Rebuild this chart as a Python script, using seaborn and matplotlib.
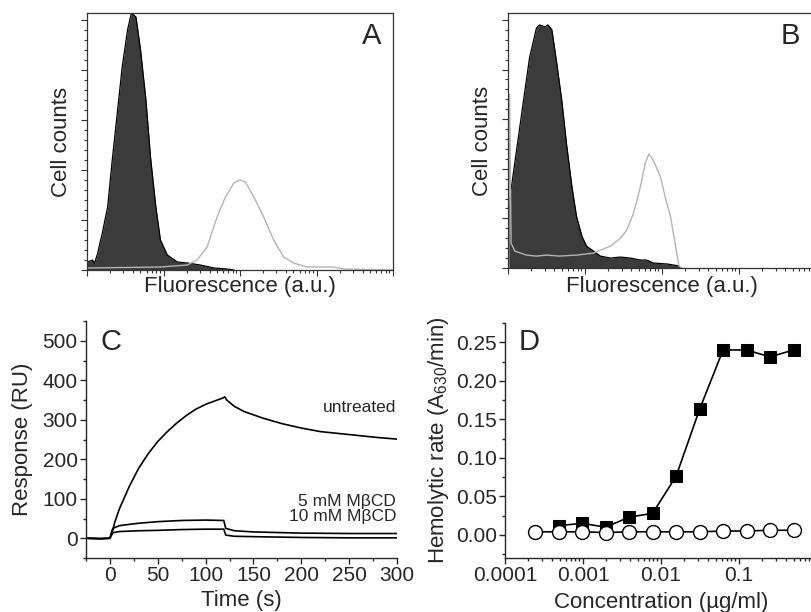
import numpy as np
import matplotlib
matplotlib.use("Agg")
import matplotlib.pyplot as plt
import seaborn as sns
from matplotlib.ticker import (MultipleLocator, LogLocator, FixedLocator, NullFormatter,
                               FuncFormatter, FormatStrFormatter)

sns.set_style("ticks")
plt.rcParams['font.family'] = ['Liberation Sans', 'DejaVu Sans']
plt.rcParams['mathtext.default'] = 'regular'

# ---- panel A: flow cytometry (x in decades of fluorescence, y = counts)
a_dark_dec = [0.0, 0.01, 0.07, 0.10, 0.14, 0.20, 0.27, 0.33, 0.40, 0.46, 0.53, 0.58, 0.64,
              0.70, 0.77, 0.83, 0.90, 0.96, 1.05, 1.18, 1.31, 1.48, 1.66, 1.83, 1.92]
a_dark_cnt = [0, 8, 10, 7, 17, 37, 63, 110, 160, 203, 240, 257, 253,
              220, 170, 113, 63, 30, 15, 8, 7, 5, 2, 1, 0]
a_gray_dec = [0.0, 0.96, 1.31, 1.44, 1.57, 1.70, 1.81, 1.92, 2.00, 2.07, 2.18, 2.31,
              2.44, 2.57, 2.70, 2.87, 3.22, 3.35, 4.0]
a_gray_cnt = [2, 3, 5, 10, 23, 53, 73, 87, 90, 88, 73, 53,
              30, 13, 7, 3, 3, 1, 0]

# ---- panel B
b_dark_dec = [0.0, 0.02, 0.11, 0.20, 0.28, 0.37, 0.41, 0.48, 0.52, 0.57, 0.63, 0.70, 0.76,
              0.83, 0.89, 0.96, 1.02, 1.11, 1.20, 1.33, 1.46, 1.59, 1.72, 1.80, 1.89,
              2.07, 2.15, 2.22, 2.24]
b_dark_cnt = [0, 68, 118, 168, 212, 242, 245, 243, 245, 240, 208, 168, 125,
              82, 52, 32, 22, 17, 12, 10, 11, 10, 8, 8, 5,
              4, 3, 2, 0]
b_gray_dec = [0.01, 0.02, 0.04, 0.09, 0.24, 0.37, 0.50, 0.67, 0.89, 1.11, 1.20, 1.33,
              1.46, 1.54, 1.63, 1.72, 1.78, 1.83, 1.89, 1.98, 2.04, 2.11, 2.17, 2.22, 2.26]
b_gray_cnt = [0, 175, 25, 17, 13, 12, 13, 12, 13, 15, 18, 22,
              30, 38, 55, 82, 105, 115, 108, 92, 72, 52, 25, 2, 0]

# ---- panel C: SPR sensorgrams
t_untreated = [-25, -10, 0, 2, 5, 10, 20, 30, 40, 50, 60, 70, 80, 90, 100, 110, 118, 120,
               122, 130, 140, 160, 180, 200, 220, 240, 260, 280, 300]
r_untreated = [0, -1, 0, 10, 40, 75, 130, 177, 214, 245, 270, 292, 311, 327, 339, 348, 355, 358,
               350, 334, 321, 304, 290, 279, 270, 265, 260, 255, 251]
t_mbcd = [-25, -10, 0, 1, 3, 10, 20, 30, 50, 75, 100, 119, 121, 130, 150, 200, 250, 300]
r_5mm = [0, -1, 0, 10, 25, 32, 35, 38, 42, 45, 46, 45, 25, 19, 16, 13, 12, 12]
r_10mm = [0, -1, 0, 6, 14, 17, 18, 19, 20, 22, 23, 23, 8, 5, 4, 2, 1, 1]

# ---- panel D: hemolysis
conc_sq = [0.000488, 0.000977, 0.00195, 0.0039, 0.0078, 0.0156, 0.03125, 0.0625, 0.125, 0.25, 0.5]
rate_sq = [0.012, 0.015, 0.010, 0.023, 0.028, 0.076, 0.163, 0.240, 0.240, 0.231, 0.240]
conc_ci = [0.000244, 0.000488, 0.000977, 0.00195, 0.0039, 0.0078, 0.0156, 0.03125, 0.0625,
           0.125, 0.25, 0.5]
rate_ci = [0.004, 0.004, 0.004, 0.003, 0.004, 0.004, 0.004, 0.004, 0.005, 0.005, 0.006, 0.006]

W, H = 811, 612
fig = plt.figure(figsize=(W / 100, H / 100), dpi=100)


def px_axes(left, top, right, bottom):
    return fig.add_axes([left / W, 1 - bottom / H, (right - left) / W, (bottom - top) / H])


dark = '#3b3b3b'
gray = '#b4b4b4'
tick_fs = 15
label_fs = 16


def flow_panel(ax, dd, dc, gd, gc, letter, lx):
    xd = 10 ** np.array(dd)
    xg = 10 ** np.array(gd)
    ax.fill_between(xd, dc, 0, color=dark, lw=0)
    sns.lineplot(x=xd, y=dc, ax=ax, color='black', lw=0.9, estimator=None, sort=False)
    sns.lineplot(x=xg, y=gc, ax=ax, color=gray, lw=1.0, estimator=None, sort=False)
    ax.set_xscale('log')
    ax.set_xlim(1, 1e4)
    ax.set_ylim(0, 257)
    ax.xaxis.set_major_locator(LogLocator(base=10))
    ax.xaxis.set_minor_locator(LogLocator(base=10, subs=np.arange(2, 10)))
    ax.xaxis.set_minor_formatter(NullFormatter())
    ax.yaxis.set_major_locator(MultipleLocator(50))
    ax.yaxis.set_minor_locator(MultipleLocator(10))
    ax.tick_params(which='both', direction='out', top=False, right=False,
                   labelbottom=False, labelleft=False, width=0.8, color='#333333')
    ax.tick_params(which='major', length=4)
    ax.tick_params(which='minor', length=2.5)
    for s in ax.spines.values():
        s.set_color('#333333')
        s.set_linewidth(0.9)
    ax.set_xlabel('Fluorescence (a.u.)', fontsize=label_fs)
    ax.set_ylabel('Cell counts', fontsize=label_fs)
    ax.text(lx, 0.91, letter, transform=ax.transAxes, fontsize=21,
            ha='center', va='center')


axA = px_axes(87, 13, 393, 270)
flow_panel(axA, a_dark_dec, a_dark_cnt, a_gray_dec, a_gray_cnt, 'A', 0.93)
axA.xaxis.set_label_coords(0.5, -0.025)
axA.yaxis.set_label_coords(-0.05, 0.5)

axB = px_axes(508, 13, 816, 268)
flow_panel(axB, b_dark_dec, b_dark_cnt, b_gray_dec, b_gray_cnt, 'B', 0.915)
axB.xaxis.set_label_coords(0.5, -0.033)
axB.yaxis.set_label_coords(-0.05, 0.5)

# ---- panel C
axC = px_axes(86, 321, 397, 558)
for t, r in [(t_untreated, r_untreated), (t_mbcd, r_5mm), (t_mbcd, r_10mm)]:
    sns.lineplot(x=t, y=r, ax=axC, color='black', lw=1.2, estimator=None, sort=False)
axC.set_xlim(-25, 300)
axC.set_ylim(-50, 550)
axC.xaxis.set_major_locator(MultipleLocator(50))
axC.xaxis.set_minor_locator(MultipleLocator(25))
axC.yaxis.set_major_locator(MultipleLocator(100))
axC.yaxis.set_minor_locator(MultipleLocator(50))
axC.text(299, 331, 'untreated', ha='right', va='center', fontsize=12.5)
axC.text(299, 74, '5 mM M\u03b2CD\n10 mM M\u03b2CD', ha='right', va='center',
         multialignment='right', linespacing=1.0, fontsize=12.5)
axC.text(0.08, 0.91, 'C', transform=axC.transAxes, fontsize=21, ha='center', va='center')
axC.set_xlabel('Time (s)', fontsize=label_fs)
axC.set_ylabel('Response (RU)', fontsize=label_fs)
axC.xaxis.set_label_coords(0.5, -0.135)
axC.yaxis.set_label_coords(-0.17, 0.5)

# ---- panel D
axD = px_axes(505, 323, 817, 558)
sns.lineplot(x=conc_sq, y=rate_sq, ax=axD, color='black', lw=1.2, marker='s', markersize=9,
             markerfacecolor='black', markeredgecolor='black', estimator=None, sort=False)
sns.lineplot(x=conc_ci, y=rate_ci, ax=axD, color='black', lw=1.2, marker='o', markersize=10,
             markerfacecolor='white', markeredgecolor='black', markeredgewidth=1.0,
             estimator=None, sort=False)
axD.set_xscale('log')
axD.set_xlim(1e-4, 1)
axD.set_ylim(-0.03, 0.275)
axD.xaxis.set_major_locator(FixedLocator([1e-4, 1e-3, 1e-2, 1e-1]))
axD.xaxis.set_minor_locator(LogLocator(base=10, subs=np.arange(2, 10)))
axD.xaxis.set_minor_formatter(NullFormatter())
axD.xaxis.set_major_formatter(FuncFormatter(lambda v, p: '{:g}'.format(v)))
axD.yaxis.set_major_locator(MultipleLocator(0.05))
axD.yaxis.set_minor_locator(MultipleLocator(0.025))
axD.yaxis.set_major_formatter(FormatStrFormatter('%.2f'))
axD.text(0.076, 0.92, 'D', transform=axD.transAxes, fontsize=21, ha='center', va='center')
axD.set_xlabel('Concentration (\u00b5g/ml)', fontsize=label_fs)
axD.set_ylabel('Hemolytic rate (A$_{630}$/min)', fontsize=label_fs)
axD.xaxis.set_label_coords(0.5, -0.145)
axD.yaxis.set_label_coords(-0.173, 0.5)

for ax in (axC, axD):
    sns.despine(ax=ax)
    ax.spines['left'].set_linewidth(1.0)
    ax.spines['bottom'].set_linewidth(1.0)
    ax.tick_params(which='both', direction='out', width=1.0, labelsize=tick_fs)
    ax.tick_params(which='major', length=4, pad=2)
    ax.tick_params(which='minor', length=2.5)

fig.savefig('out.png', dpi=100)
